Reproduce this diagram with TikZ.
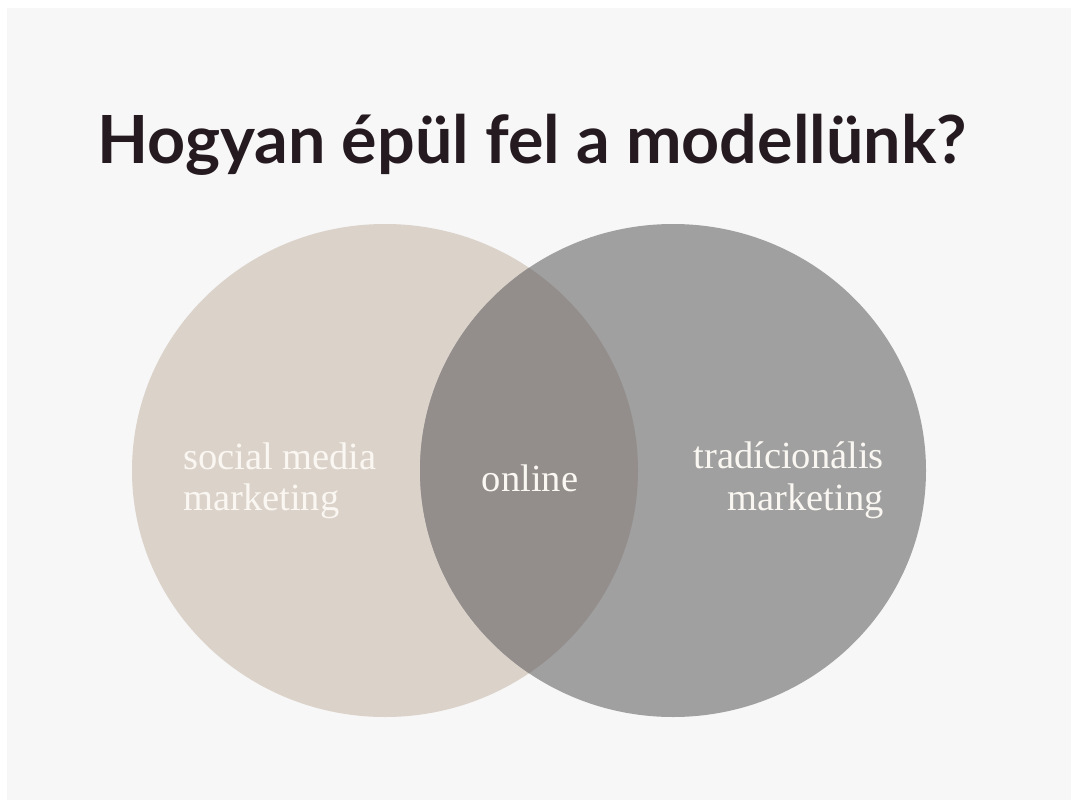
\documentclass[tikz,border=0pt]{standalone}
\usepackage{fontspec}
\newfontfamily\titlefont{Lato}
\newfontfamily\labelfont{Liberation Serif}
\definecolor{pagebg}{RGB}{247,247,247}
\definecolor{titlecol}{RGB}{38,26,33}
\definecolor{beige}{RGB}{219,210,202}
\definecolor{greyc}{RGB}{160,160,160}
\definecolor{overlap}{RGB}{147,142,139}
\definecolor{labelcol}{RGB}{250,247,242}
\tikzset{
  lbl/.style={inner sep=0pt, text=labelcol, font=\labelfont\fontsize{38.5}{42}\selectfont},
}
\begin{document}
\begin{tikzpicture}[x=1pt,y=-1pt]
\fill[pagebg] (0,0) rectangle (1071,800);
\useasboundingbox (0,0) rectangle (1071,800);
\fill[white] (0,0) rectangle (7,800);
\fill[white] (0,0) rectangle (1071,8);
% title
\node[anchor=base west, inner sep=0pt, text=titlecol, font=\titlefont\bfseries\fontsize{66.4}{74}\selectfont] (title) at (97,163) {Hogyan épül fel a modellünk?};
% circles
\fill[beige] (385,470.5) ellipse [x radius=253, y radius=246.5];
\fill[greyc] (673,470.5) ellipse [x radius=253, y radius=246.5];
\begin{scope}
  \clip (385,470.5) ellipse [x radius=253, y radius=246.5];
  \fill[overlap] (673,470.5) ellipse [x radius=253, y radius=246.5];
\end{scope}
% labels
\node[lbl, anchor=base west] (sm1) at (183,469) {social media};
\node[lbl, anchor=base west] (sm2) at (183,510) {marketing};
\node[lbl, anchor=base] (on) at (530,491) {online};
\node[lbl, anchor=base east] (tr1) at (884,468) {tradícionális};
\node[lbl, anchor=base east] (tr2) at (884,510) {marketing};
\end{tikzpicture}
\end{document}
